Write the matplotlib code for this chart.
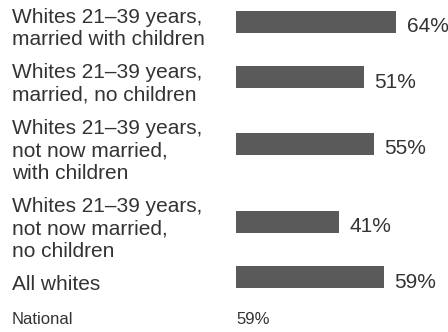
import matplotlib
matplotlib.use("Agg")
import matplotlib.pyplot as plt

labels = [
    "Whites 21\u201339 years,\nmarried with children",
    "Whites 21\u201339 years,\nmarried, no children",
    "Whites 21\u201339 years,\nnot now married,\nwith children",
    "Whites 21\u201339 years,\nnot now married,\nno children",
    "All whites",
]
values = [64, 51, 55, 41, 59]
national_label = "National"
national_value = 59

plt.rcParams["font.family"] = ["Liberation Sans", "DejaVu Sans"]

W, H = 448, 332
fig = plt.figure(figsize=(W / 100, H / 100), dpi=100)
ax = fig.add_axes([0, 0, 1, 1])
ax.set_xlim(0, W)
ax.set_ylim(H, 0)
ax.axis("off")

# layout in pixels
x0 = 236          # bar start
px_per_pct = 2.5
line_h = 22.5
gap = 10.5
fs = 15
text_col = "#333333"

top = 6
for lab, v in zip(labels, values):
    n = lab.count("\n") + 1
    center = top + n * line_h / 2
    ax.text(12, center, lab, fontsize=fs, color=text_col, va="center", ha="left",
            linespacing=1.22)
    ax.barh(center - 7, v * px_per_pct, left=x0, height=22, color="#5a5a5a")
    ax.text(x0 + v * px_per_pct + 11, center - 2, f"{v}%", fontsize=fs,
            color=text_col, va="center", ha="left")
    top += n * line_h + gap

ax.text(12, 319, national_label, fontsize=12, color=text_col, va="center", ha="left")
ax.text(x0, 319, f"{national_value}%", fontsize=12, color=text_col, va="center", ha="left")

fig.savefig("out.png", dpi=100)
